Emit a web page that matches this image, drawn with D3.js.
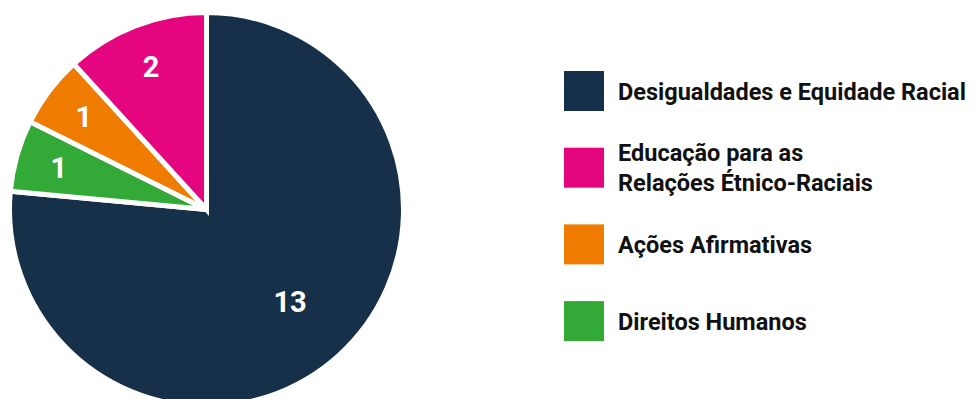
<!DOCTYPE html>
<html>
<head>
<meta charset="utf-8">
<script src="https://cdn.jsdelivr.net/npm/d3@7"></script>
<style>
  html, body { margin: 0; padding: 0; background: #fff; }
  svg { display: block; font-family: Roboto, "Noto Sans", sans-serif; }
</style>
</head>
<body>
<svg id="chart" width="974" height="399"></svg>
<script>
// Categories (legend order) and their counts
const categories = [
  "Desigualdades e Equidade Racial",
  "Educação para as Relações Étnico-Raciais",
  "Ações Afirmativas",
  "Direitos Humanos"
];
// Legend label lines (wrapped as shown)
const legendLines = [
  ["Desigualdades e Equidade Racial"],
  ["Educação para as", "Relações Étnico-Raciais"],
  ["Ações Afirmativas"],
  ["Direitos Humanos"]
];
const values = [13, 2, 1, 1];
const colors = ["#16304a", "#e5067f", "#ef7b00", "#33aa38"];
// Slice drawing order going clockwise from 12 o'clock
const sliceOrder = [0, 3, 2, 1];

const svg = d3.select("#chart");
const cx = 206.5, cy = 209.5, R = 197;

const data = sliceOrder.map(i => ({ name: categories[i], value: values[i], color: colors[i] }));

const pie = d3.pie().sort(null).value(d => d.value);
const arcs = pie(data);
const arc = d3.arc().innerRadius(0).outerRadius(R);

const g = svg.append("g").attr("transform", `translate(${cx},${cy})`);

g.selectAll("path.slice")
  .data(arcs)
  .join("path")
  .attr("class", "slice")
  .attr("d", arc)
  .attr("fill", d => d.data.color)
  .attr("stroke", "#fff")
  .attr("stroke-width", 5)
  .attr("stroke-linejoin", "miter");

// Value labels: large slices near the middle, thin slices pushed outward
g.selectAll("text.val")
  .data(arcs)
  .join("text")
  .attr("class", "val")
  .attr("transform", d => {
    const span = d.endAngle - d.startAngle;
    const r = span > Math.PI ? R * 0.63 : R * 0.78;
    const a = (d.startAngle + d.endAngle) / 2;
    return `translate(${r * Math.sin(a)},${-r * Math.cos(a)})`;
  })
  .attr("text-anchor", "middle")
  .attr("dy", "0.36em")
  .attr("fill", "#fff")
  .attr("font-weight", 700)
  .attr("font-size", 29)
  .text(d => d.value);

// Legend
const legendX = 564, legendTop = 71, legendStep = 76.7, sw = 40;
const lg = svg.append("g");
categories.forEach((c, i) => {
  const y = legendTop + i * legendStep;
  lg.append("rect")
    .attr("x", legendX).attr("y", y)
    .attr("width", sw).attr("height", sw)
    .attr("fill", colors[i]);
  const lines = legendLines[i];
  const lh = 30;
  const mid = y + sw / 2;
  const first = mid + 8.5 - (lines.length - 1) * lh / 2;
  const t = lg.append("text")
    .attr("x", 618)
    .attr("fill", "#111")
    .attr("font-weight", 700)
    .attr("font-size", 23.5);
  lines.forEach((ln, k) => {
    t.append("tspan").attr("x", 618).attr("y", first + k * lh).text(ln);
  });
});
</script>
</body>
</html>
